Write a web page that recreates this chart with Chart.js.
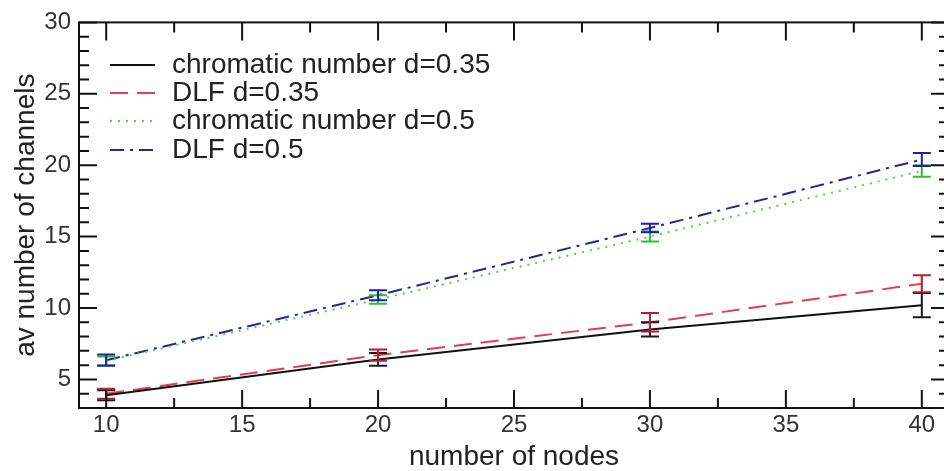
<!DOCTYPE html>
<html>
<head>
<meta charset="utf-8">
<script src="https://cdn.jsdelivr.net/npm/chart.js@4.4.1/dist/chart.umd.min.js"></script>
<style>
  html, body { margin: 0; padding: 0; background: #fff; overflow: hidden; }
  #wrap { position: relative; width: 952px; height: 471px; }
</style>
</head>
<body>
<div id="wrap"><canvas id="chart"></canvas></div>
<script>
// data
const nodes = [10, 20, 30, 40];
const chromatic035 = [3.9, 6.4, 8.5, 10.2];
const chromatic035Err = [0.35, 0.45, 0.5, 0.85];
const dlf035 = [4.0, 6.7, 9.0, 11.7];
const dlf035Err = [0.35, 0.4, 0.65, 0.6];
const chromatic05 = [6.3, 10.6, 15.0, 19.6];
const chromatic05Err = [0.3, 0.3, 0.35, 0.4];
const dlf05 = [6.35, 10.9, 15.6, 20.4];
const dlf05Err = [0.4, 0.35, 0.3, 0.45];

const seriesNames = ['chromatic number d=0.35', 'DLF d=0.35', 'chromatic number d=0.5', 'DLF d=0.5'];

// axis ticks
const xTicks = [10, 15, 20, 25, 30, 35, 40];
const xMinorTicks = [12.5, 17.5, 22.5, 27.5, 32.5, 37.5];
const yTicks = [5, 10, 15, 20, 25, 30];
const yMinorTicks = [3, 4, 6, 7, 8, 9, 11, 12, 13, 14, 16, 17, 18, 19, 21, 22, 23, 24, 26, 27, 28, 29];

const FONT = "'Liberation Sans', Arial, sans-serif";

function pts(ys) {
  return nodes.map((n, i) => ({ x: n, y: ys[i] }));
}

const errs = [chromatic035Err, dlf035Err, chromatic05Err, dlf05Err];
const barColors = ['#1a1a1a', '#b81c30', '#2fbf2f', '#1f1fae'];

// error bars drawn through the scales
const errorBars = {
  id: 'errorBars',
  afterDatasetsDraw(chart) {
    const ctx = chart.ctx;
    const xs = chart.scales.x, ys = chart.scales.y;
    ctx.save();
    ctx.lineWidth = 2;
    chart.data.datasets.forEach((ds, i) => {
      ctx.strokeStyle = barColors[i];
      ds.data.forEach((p, j) => {
        const e = errs[i][j];
        const px = xs.getPixelForValue(p.x);
        const top = ys.getPixelForValue(p.y + e);
        const bot = ys.getPixelForValue(p.y - e);
        ctx.beginPath();
        ctx.moveTo(px, top); ctx.lineTo(px, bot);
        ctx.moveTo(px - 9, top); ctx.lineTo(px + 9, top);
        ctx.moveTo(px - 9, bot); ctx.lineTo(px + 9, bot);
        ctx.stroke();
      });
    });
    ctx.restore();
  }
};

// box frame with inward ticks on all four sides
const frame = {
  id: 'frame',
  afterDraw(chart) {
    const ctx = chart.ctx;
    const a = chart.chartArea;
    const xs = chart.scales.x, ys = chart.scales.y;
    ctx.save();
    ctx.strokeStyle = '#111';
    ctx.lineWidth = 2;
    ctx.strokeRect(a.left, a.top, a.right - a.left, a.bottom - a.top);
    ctx.beginPath();
    const xt = (v, len) => {
      const px = xs.getPixelForValue(v);
      ctx.moveTo(px, a.bottom); ctx.lineTo(px, a.bottom - len);
      ctx.moveTo(px, a.top); ctx.lineTo(px, a.top + len);
    };
    const yt = (v, len) => {
      const py = ys.getPixelForValue(v);
      ctx.moveTo(a.left, py); ctx.lineTo(a.left + len, py);
      ctx.moveTo(a.right, py); ctx.lineTo(a.right - len, py);
    };
    xTicks.forEach(v => xt(v, 18));
    xMinorTicks.forEach(v => xt(v, 10));
    yTicks.forEach(v => yt(v, 18));
    yMinorTicks.forEach(v => yt(v, 10));
    ctx.stroke();
    ctx.restore();
  }
};

// legend inside the plot, top left
const insideLegend = {
  id: 'insideLegend',
  afterDraw(chart) {
    const ctx = chart.ctx;
    const a = chart.chartArea;
    ctx.save();
    ctx.font = '28px ' + FONT;
    ctx.textBaseline = 'middle';
    ctx.textAlign = 'left';
    const rows = [65, 93, 121, 150];
    chart.data.datasets.forEach((ds, i) => {
      const y = rows[i];
      ctx.strokeStyle = ds.borderColor;
      ctx.lineWidth = 2;
      ctx.setLineDash(ds.borderDash || []);
      ctx.beginPath();
      ctx.moveTo(a.left + 31, y);
      ctx.lineTo(a.left + 76, y);
      ctx.stroke();
      ctx.setLineDash([]);
      ctx.fillStyle = '#222';
      ctx.fillText(seriesNames[i], a.left + 93, y);
    });
    ctx.restore();
  }
};

new Chart(document.getElementById('chart'), {
  type: 'line',
  data: {
    datasets: [
      { label: seriesNames[0], data: pts(chromatic035), borderColor: '#111111', borderWidth: 2 },
      { label: seriesNames[1], data: pts(dlf035), borderColor: '#e23e50', borderWidth: 2, borderDash: [18, 9] },
      { label: seriesNames[2], data: pts(chromatic05), borderColor: '#58cc48', borderWidth: 2, borderDash: [2, 6] },
      { label: seriesNames[3], data: pts(dlf05), borderColor: '#26269a', borderWidth: 2, borderDash: [14, 6, 3, 6] }
    ]
  },
  options: {
    responsive: true,
    maintainAspectRatio: false,
    animation: false,
    layout: { padding: { top: 17, right: 3, left: 0, bottom: 0 } },
    elements: { point: { radius: 0 }, line: { tension: 0 } },
    plugins: { legend: { display: false }, tooltip: { enabled: false } },
    scales: {
      x: {
        type: 'linear',
        min: 9,
        max: 41,
        grid: { display: false, drawTicks: false },
        border: { display: false },
        afterBuildTicks: s => { s.ticks = xTicks.map(v => ({ value: v })); },
        afterFit: s => { s.height = 63; },
        ticks: { color: '#333', padding: 3, maxRotation: 0, font: { family: FONT, size: 24, lineHeight: 1.2 } },
        title: { display: true, text: 'number of nodes', color: '#222', padding: 0, font: { family: FONT, size: 28, lineHeight: 1 } }
      },
      y: {
        min: 3,
        max: 30,
        grid: { display: false, drawTicks: false },
        border: { display: false },
        afterBuildTicks: s => { s.ticks = yTicks.map(v => ({ value: v })); },
        afterFit: s => { s.width = 79; },
        ticks: { color: '#333', padding: 8, font: { family: FONT, size: 24 } },
        title: { display: true, text: 'av number of channels', color: '#222', padding: { top: 12, bottom: 0 }, font: { family: FONT, size: 28, lineHeight: 1 } }
      }
    }
  },
  plugins: [errorBars, frame, insideLegend]
});
</script>
</body>
</html>
